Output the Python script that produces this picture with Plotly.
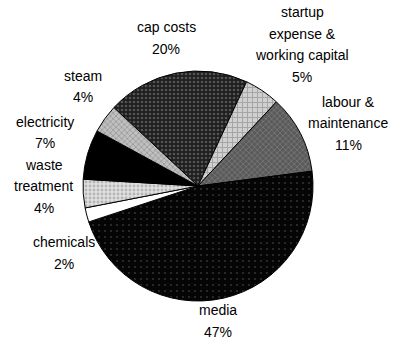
import math
import plotly.graph_objects as go

categories = ["cap costs", "startup<br>expense &<br>working capital", "labour &<br>maintenance",
              "media", "chemicals", "waste<br>treatment", "electricity", "steam"]
values = [20, 5, 11, 47, 2, 4, 7, 4]

# styling (kept apart from the data)
colors = ["#1e1e1e", "#d0d0d0", "#5a5a5a", "#050505", "#ffffff", "#e0e0e0", "#000000", "#c0c0c0"]
pattern_shapes = [".", "+", "x", ".", "", ".", "", "x"]
pattern_fg = ["#8a8a8a", "#7a7a7a", "#9a9a9a", "#5a5a5a", "#000000", "#8a8a8a", "#000000", "#6a6a6a"]
pattern_size = [4, 5, 4, 6, 4, 4, 4, 4]
pattern_solidity = [0.35, 0.35, 0.35, 0.1, 0.3, 0.4, 0.3, 0.35]
# manual label nudges in pixels (dx right, dy down), as the labels were dragged in the original
label_nudge = [(-2, -4), (5, -2), (5, 9), (-12, -8), (17, 30), (2, -10), (4, -13), (1, -14)]

W, H = 397, 341
ML, MR, MT, MB = 83, 84, 71, 40
ROT = -47
FONT = "Liberation Sans, Arial, sans-serif"
FS = 14

fig = go.Figure(go.Pie(
    labels=[c.replace("<br>", " ") for c in categories],
    values=values,
    textinfo="none",
    sort=False,
    direction="clockwise",
    rotation=ROT,
    marker=dict(
        colors=colors,
        line=dict(color="#000000", width=1),
        pattern=dict(shape=pattern_shapes, fgcolor=pattern_fg, size=pattern_size,
                     solidity=pattern_solidity, fillmode="overlay"),
    ),
    showlegend=False,
    hoverinfo="skip",
))

# Place labels outside the pie (Excel style), centred, from the slice mid-angles
radius_px = min(W - ML - MR, H - MT - MB) / 2
label_r = radius_px + 10
line_h = 21.5
char_w = 7.0
total = sum(values)
cum = 0
annotations = []
for cat, v, (nx, ny) in zip(categories, values, label_nudge):
    mid = math.radians(ROT + 360 * (cum + v / 2) / total)
    cum += v
    lines = cat.split("<br>") + [f"{v}%"]
    w = char_w * max(len(s) for s in lines)
    h = line_h * len(lines)
    sx, sy = math.sin(mid), -math.cos(mid)
    cx = sx * label_r + sx * w / 2 + nx
    cy = sy * label_r + sy * h / 2 + ny
    for i, s in enumerate(lines):
        ly = cy + (i - (len(lines) - 1) / 2) * line_h
        annotations.append(dict(
            x=0.5, y=0.5, xref="paper", yref="paper",
            xshift=cx, yshift=-ly, text=s, showarrow=False,
            xanchor="center", yanchor="middle",
            font=dict(family=FONT, size=FS, color="#000000"),
        ))

fig.update_layout(
    width=W, height=H,
    margin=dict(l=ML, r=MR, t=MT, b=MB),
    paper_bgcolor="#ffffff",
    plot_bgcolor="#ffffff",
    annotations=annotations,
)

fig.write_html("out.html")
